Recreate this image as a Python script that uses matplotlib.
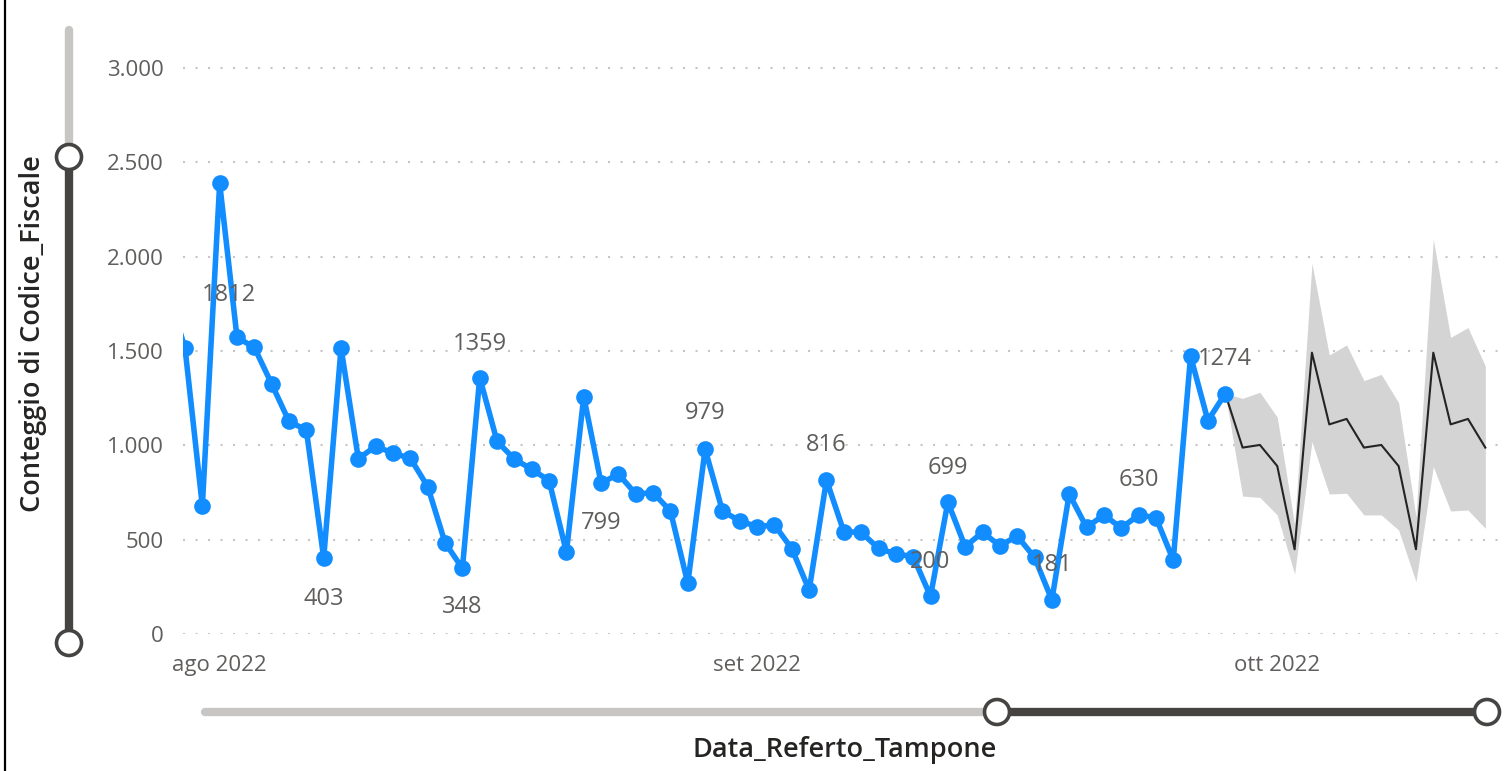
import matplotlib
matplotlib.use("Agg")
import matplotlib.pyplot as plt
import matplotlib.dates as mdates
import pandas as pd
from matplotlib.patches import Circle
from matplotlib.lines import Line2D

plt.rcParams['font.family'] = ['Open Sans', 'DejaVu Sans']

# ---------------- data ----------------
actual_dates = pd.date_range('2022-07-29', '2022-09-28', freq='D')
actual_values = [1812, 1517, 678,
                 2389, 1572, 1519, 1325, 1127, 1081, 403, 1516, 929, 996, 958, 931, 781, 484, 348,
                 1359, 1021, 927, 873, 813, 433, 1258, 799, 848, 742, 749, 652, 269, 979, 652, 599,
                 569, 578, 452, 233, 816, 542, 539, 454, 424, 410, 200, 699, 463, 539, 468, 519, 406,
                 181, 742, 565, 631, 562, 630, 617, 392, 1473, 1131, 1274]

forecast_dates = pd.date_range('2022-09-28', '2022-10-13', freq='D')
forecast_values = [1274, 988, 1002, 890, 449, 1491, 1111, 1140, 988, 1002, 890, 449, 1491, 1111, 1140, 988]
forecast_upper = [1274, 1249, 1281, 1149, 580, 1965, 1479, 1532, 1343, 1376, 1226, 621, 2092, 1572, 1624, 1420]
forecast_lower = [1274, 731, 724, 631, 318, 1019, 742, 746, 631, 631, 551, 277, 887, 652, 657, 560]

label_dates = ['2022-07-29', '2022-08-07', '2022-08-15', '2022-08-16', '2022-08-23', '2022-08-29',
               '2022-09-05', '2022-09-11', '2022-09-12', '2022-09-18', '2022-09-23', '2022-09-28']
label_offsets = [(61, -3), (0, -41), (0, -39), (0, 34), (0, -40), (0, 36),
                 (0, 35), (0, 34), (0, 34), (0, 35), (0, 35), (0, 35)]

ytick_values = [0, 500, 1000, 1500, 2000, 2500, 3000]
ytick_labels = ['0', '500', '1.000', '1.500', '2.000', '2.500', '3.000']
xtick_dates = ['2022-08-01', '2022-09-01', '2022-10-01']
xtick_labels = ['ago 2022', 'set 2022', 'ott 2022']

x_title = 'Data_Referto_Tampone'
y_title = 'Conteggio di Codice_Fiscale'

# ---------------- figure ----------------
W, H = 1508, 771
fig = plt.figure(figsize=(W / 100, H / 100), dpi=100)

def fx(px):
    return px / W

def fy(py):
    return 1 - py / H

ax_left, ax_right, ax_top, ax_bot = 183, 1506, 30, 634
ax = fig.add_axes([fx(ax_left), fy(ax_bot), fx(ax_right - ax_left), fy(ax_top) - fy(ax_bot)])

px_per_day = 17.35
px_per_unit = 566 / 3000.0
x0 = mdates.date2num(pd.Timestamp('2022-07-30')) - 2 / px_per_day
x1 = mdates.date2num(pd.Timestamp('2022-10-13')) + (ax_right - 1485.3) / px_per_day
ax.set_xlim(x0, x1)
ax.set_ylim(0, (ax_bot - ax_top) / px_per_unit)

# grid
for v in ytick_values:
    ax.axhline(v, color='#C8C6C4', lw=1.5, linestyle=(0, (1, 5)), zorder=0)

# forecast band and line
fd = mdates.date2num(forecast_dates)
ax.fill_between(fd, forecast_lower, forecast_upper, color='#D4D4D4', lw=0, zorder=1)
ax.plot(fd, forecast_values, color='#252423', lw=1.5, zorder=2)

# actual
ad = mdates.date2num(actual_dates)
ax.plot(ad, actual_values, color='#118DFF', lw=4.0, marker='o', markersize=12,
        markeredgewidth=0, solid_joinstyle='round', solid_capstyle='round', zorder=3)

# data labels
val_by_date = dict(zip([d.strftime('%Y-%m-%d') for d in actual_dates], actual_values))
for d, off in zip(label_dates, label_offsets):
    v = val_by_date[d]
    ax.annotate(str(v), xy=(mdates.date2num(pd.Timestamp(d)), v), xytext=off,
                textcoords='offset pixels', ha='center', va='center', fontsize=17,
                color='#605E5C', annotation_clip=False, zorder=4)

# axes styling
for s in ax.spines.values():
    s.set_visible(False)
ax.set_yticks(ytick_values)
ax.set_yticklabels(ytick_labels)
ax.set_xticks([mdates.date2num(pd.Timestamp(d)) for d in xtick_dates])
ax.set_xticklabels(xtick_labels)
ax.tick_params(axis='both', length=0, labelsize=16, labelcolor='#605E5C')
ax.tick_params(axis='y', pad=14)
ax.tick_params(axis='x', pad=15)
ax.patch.set_alpha(0)

# titles
fig.text(fx(33), fy(334), y_title, rotation=90, ha='center', va='center',
         fontsize=19.5, color='#252423', fontweight='semibold')
fig.text(fx(845), fy(750), x_title, ha='center', va='center',
         fontsize=19.5, color='#252423', fontweight='semibold')

# overlay for sliders and border
ov = fig.add_axes([0, 0, 1, 1], zorder=5)
ov.set_xlim(0, W)
ov.set_ylim(H, 0)
ov.axis('off')
ov.patch.set_alpha(0)

light, dark = '#C8C6C4', '#464442'
ov.add_line(Line2D([69, 69], [30, 157], color=light, lw=6, solid_capstyle='round'))
ov.add_line(Line2D([69, 69], [157, 643], color=dark, lw=6, solid_capstyle='butt'))
ov.add_line(Line2D([205, 997], [712, 712], color=light, lw=6, solid_capstyle='round'))
ov.add_line(Line2D([997, 1487], [712, 712], color=dark, lw=6, solid_capstyle='butt'))
for cx, cy in [(69, 157), (69, 643), (997, 712), (1487, 712)]:
    ov.add_patch(Circle((cx, cy), 12.5, facecolor='white', edgecolor=dark, lw=2.6, zorder=6))
ov.add_line(Line2D([4.5, 4.5], [0, H], color='#000000', lw=1.6))

fig.savefig('out.png', dpi=100)
